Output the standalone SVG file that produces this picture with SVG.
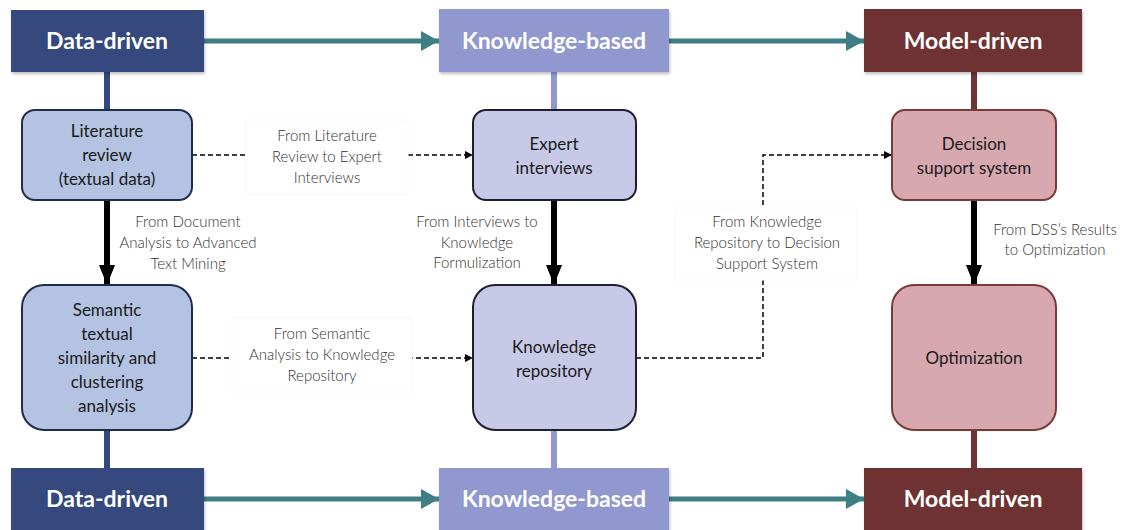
<svg xmlns="http://www.w3.org/2000/svg" width="1125" height="530" viewBox="0 0 1125 530">
<style>
.hdr{font-family:Lato,"Liberation Sans",sans-serif;font-weight:700;font-size:23px;fill:#fff;text-anchor:middle}
.nt{font-family:Lato,"Liberation Sans",sans-serif;font-size:17px;fill:#1a1a1a;text-anchor:middle}
.lb{font-family:Lato,"Liberation Sans",sans-serif;font-weight:300;font-size:15px;fill:#333;text-anchor:middle}
.dd{fill:#344a7e}.kb{fill:#9197cf}.md{fill:#6e3333}
.n1{fill:#b4c3e2;stroke:#1f2d4d;stroke-width:2}
.n2{fill:#c8c9e7;stroke:#1f1f33;stroke-width:2}
.n3{fill:#d8a8b0;stroke:#7a3a3a;stroke-width:2}
.teal{stroke:#3d7f84;stroke-width:5;fill:none}
.blk{stroke:#000;stroke-width:6;fill:none}
.dash{stroke:#000;stroke-width:1.5;stroke-dasharray:5 3;fill:none}
.lbox{fill:#fff;stroke:#f8f8f8;stroke-width:1}
</style>
<defs>
<marker id="at" markerUnits="userSpaceOnUse" markerWidth="18" markerHeight="20" refX="18" refY="10" orient="auto"><path d="M0,0 L18,10 L0,20 z" fill="#3d7f84"/></marker>
<marker id="ab" markerUnits="userSpaceOnUse" markerWidth="20" markerHeight="16" refX="20" refY="8" orient="auto"><path d="M0,0 L20,8 L0,16 z" fill="#000"/></marker>
<marker id="ad" markerUnits="userSpaceOnUse" markerWidth="8" markerHeight="8" refX="8" refY="4" orient="auto"><path d="M0,0 L8,4 L0,8 z" fill="#000"/></marker>
<filter id="sh" x="-5%" y="-10%" width="115%" height="130%"><feDropShadow dx="1" dy="2" stdDeviation="1.5" flood-color="#000" flood-opacity="0.25"/></filter>
</defs>

<g id="connectors">
<line class="teal" x1="204" y1="41" x2="439" y2="41" marker-end="url(#at)"/>
<line class="teal" x1="669" y1="41" x2="864" y2="41" marker-end="url(#at)"/>
<line class="teal" x1="204" y1="499" x2="439" y2="499" marker-end="url(#at)"/>
<line class="teal" x1="669" y1="499" x2="864" y2="499" marker-end="url(#at)"/>
<line x1="107" y1="72" x2="107" y2="110" stroke="#344a7e" stroke-width="6"/>
<line x1="107" y1="430" x2="107" y2="468" stroke="#344a7e" stroke-width="6"/>
<line x1="554" y1="72" x2="554" y2="110" stroke="#9197cf" stroke-width="6"/>
<line x1="554" y1="430" x2="554" y2="468" stroke="#9197cf" stroke-width="6"/>
<line x1="974" y1="72" x2="974" y2="110" stroke="#6e3333" stroke-width="6"/>
<line x1="974" y1="430" x2="974" y2="468" stroke="#6e3333" stroke-width="6"/>
<line class="blk" x1="107" y1="200" x2="107" y2="285" marker-end="url(#ab)"/>
<line class="blk" x1="554" y1="200" x2="554" y2="285" marker-end="url(#ab)"/>
<line class="blk" x1="974" y1="200" x2="974" y2="285" marker-end="url(#ab)"/>
<line class="dash" x1="192" y1="155" x2="473" y2="155" marker-end="url(#ad)"/>
<line class="dash" x1="192" y1="358" x2="473" y2="358" marker-end="url(#ad)"/>
<polyline class="dash" points="636,358 763,358 763,155 892,155" marker-end="url(#ad)"/>
<rect class="lbox" x="246" y="120" width="162" height="74"/>
<text class="lb" x="327" y="141">From Literature</text>
<text class="lb" x="327" y="162">Review to Expert</text>
<text class="lb" x="327" y="183">Interviews</text>
<rect class="lbox" x="232" y="318" width="180" height="74"/>
<text class="lb" x="322" y="339">From Semantic</text>
<text class="lb" x="322" y="360">Analysis to Knowledge</text>
<text class="lb" x="322" y="381">Repository</text>
<rect class="lbox" x="675" y="208" width="182" height="72"/>
<text class="lb" x="767" y="227">From Knowledge</text>
<text class="lb" x="767" y="248">Repository to Decision</text>
<text class="lb" x="767" y="269">Support System</text>
<text class="lb" x="188" y="227">From Document</text>
<text class="lb" x="188" y="248">Analysis to Advanced</text>
<text class="lb" x="188" y="269">Text Mining</text>
<text class="lb" x="477" y="227">From Interviews to</text>
<text class="lb" x="477" y="248">Knowledge</text>
<text class="lb" x="477" y="268">Formulization</text>
<text class="lb" x="1055" y="235">From DSS’s Results</text>
<text class="lb" x="1055" y="255">to Optimization</text>
</g>

<g id="dd-top"><rect class="dd" x="11" y="10" width="193" height="62" filter="url(#sh)"/><text class="hdr" x="107" y="49">Data-driven</text></g>
<g id="kb-top"><rect class="kb" x="439" y="9" width="230" height="63" filter="url(#sh)"/><text class="hdr" x="554" y="49">Knowledge-based</text></g>
<g id="md-top"><rect class="md" x="864" y="9" width="218" height="63" filter="url(#sh)"/><text class="hdr" x="973" y="49">Model-driven</text></g>
<g id="dd-bot"><rect class="dd" x="11" y="468" width="193" height="64" filter="url(#sh)"/><text class="hdr" x="107" y="507">Data-driven</text></g>
<g id="kb-bot"><rect class="kb" x="439" y="468" width="230" height="64" filter="url(#sh)"/><text class="hdr" x="554" y="507">Knowledge-based</text></g>
<g id="md-bot"><rect class="md" x="864" y="468" width="218" height="64" filter="url(#sh)"/><text class="hdr" x="973" y="507">Model-driven</text></g>

<g id="literature"><rect class="n1" x="22" y="110" width="170" height="90" rx="13"/>
<text class="nt" x="107" y="137">Literature</text><text class="nt" x="107" y="161">review</text><text class="nt" x="107" y="185">(textual data)</text></g>
<g id="semantic"><rect class="n1" x="22" y="285" width="170" height="145" rx="22"/>
<text class="nt" x="107" y="316">Semantic</text><text class="nt" x="107" y="340">textual</text><text class="nt" x="107" y="364">similarity and</text><text class="nt" x="107" y="388">clustering</text><text class="nt" x="107" y="412">analysis</text></g>
<g id="expert"><rect class="n2" x="473" y="110" width="163" height="90" rx="13"/>
<text class="nt" x="554" y="150">Expert</text><text class="nt" x="554" y="174">interviews</text></g>
<g id="repository"><rect class="n2" x="473" y="285" width="163" height="145" rx="22"/>
<text class="nt" x="554" y="353">Knowledge</text><text class="nt" x="554" y="377">repository</text></g>
<g id="dss"><rect class="n3" x="892" y="110" width="164" height="90" rx="13"/>
<text class="nt" x="974" y="150">Decision</text><text class="nt" x="974" y="174">support system</text></g>
<g id="optimization"><rect class="n3" x="892" y="285" width="164" height="145" rx="22"/>
<text class="nt" x="974" y="364">Optimization</text></g>
</svg>
